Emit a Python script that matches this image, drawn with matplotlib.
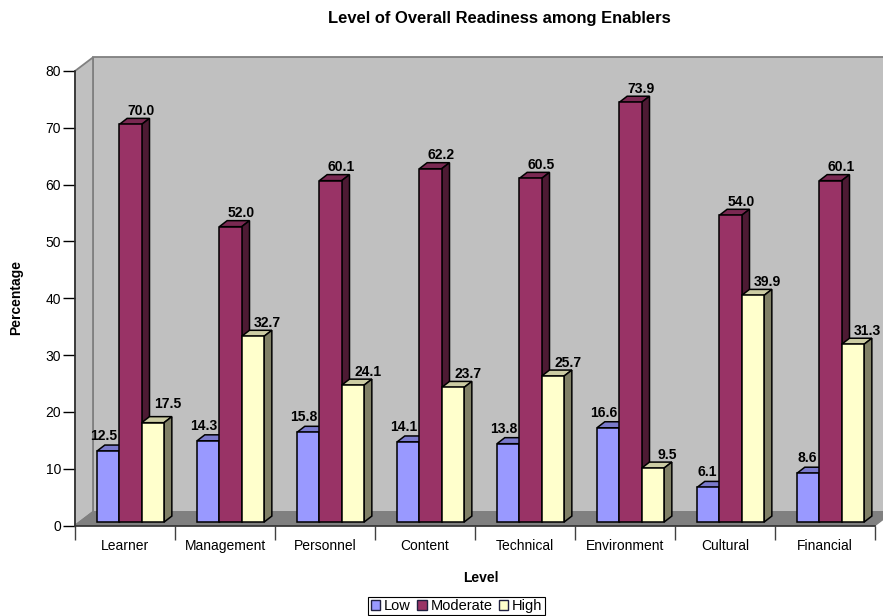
import matplotlib
matplotlib.use('Agg')
import matplotlib.pyplot as plt
from matplotlib.patches import Polygon, Patch

plt.rcParams['font.family'] = ['Liberation Sans', 'DejaVu Sans']

TITLE = 'Level of Overall Readiness among Enablers'
categories = ['Learner', 'Management', 'Personnel', 'Content',
              'Technical', 'Environment', 'Cultural', 'Financial']
low = [12.5, 14.3, 15.8, 14.1, 13.8, 16.6, 6.1, 8.6]
moderate = [70.0, 52.0, 60.1, 62.2, 60.5, 73.9, 54.0, 60.1]
high = [17.5, 32.7, 24.1, 23.7, 25.7, 9.5, 39.9, 31.3]

# name, values, front, top, side
series = [
    ('Low', low, '#9999FF', '#7A7ACC', '#4D4D80'),
    ('Moderate', moderate, '#993366', '#7A2952', '#4D1A33'),
    ('High', high, '#FFFFCC', '#CCCCA3', '#808066'),
]

W, H = 883, 616
LEFT, RIGHT, TOP, BOTTOM = 75, 875, 71, 525.5

# everything in data units: x = categories, y = percent
WALL_DX, WALL_DY = 0.18, 2.4
BAR_DX, BAR_DY = 0.078, 1.06
BAR_W = 0.2235
BAR_START = 0.22
BAR_BASE = 0.6


def depth_faces(ax, x0, x1, y0, y1, dx, dy, top_c, side_c, z):
    top = [(x0, y1), (x1, y1), (x1 + dx, y1 + dy), (x0 + dx, y1 + dy)]
    side = [(x1, y0), (x1 + dx, y0 + dy), (x1 + dx, y1 + dy), (x1, y1)]
    ax.add_patch(Polygon(top, fc=top_c, ec='black', lw=1.1, zorder=z, clip_on=False))
    ax.add_patch(Polygon(side, fc=side_c, ec='black', lw=1.1, zorder=z, clip_on=False))


fig = plt.figure(figsize=(W / 100, H / 100), dpi=100)
ax = fig.add_axes([LEFT / W, 1 - BOTTOM / H, (RIGHT - LEFT) / W, (BOTTOM - TOP) / H])
ax.set_xlim(0, len(categories))
ax.set_ylim(0, 80)
ax.patch.set_visible(False)

n = len(categories)
wall = [(WALL_DX, WALL_DY), (n + WALL_DX, WALL_DY), (n + WALL_DX, 80 + WALL_DY), (WALL_DX, 80 + WALL_DY)]
side_wall = [(0, 0), (WALL_DX, WALL_DY), (WALL_DX, 80 + WALL_DY), (0, 80)]
floor = [(0, 0), (n, 0), (n + WALL_DX, WALL_DY), (WALL_DX, WALL_DY)]
ax.add_patch(Polygon(wall, fc='#C0C0C0', ec='#808080', lw=1.3, zorder=1, clip_on=False))
ax.add_patch(Polygon(side_wall, fc='#C0C0C0', ec='#808080', lw=1.3, zorder=1, clip_on=False))
ax.add_patch(Polygon(floor, fc='#808080', ec='#808080', lw=1, zorder=1, clip_on=False))

# label placement per series: ha, x offset, y gap above the bar top
label_style = [('right', 0.20, 0.35), ('center', 0.22, 0.05), ('center', 0.26, 0.05)]
label_nudge = {(0, 2): 0.9}

for i in range(n):
    z = 3
    for j, (name, vals, front, top_c, side_c) in enumerate(series):
        x0 = i + BAR_START + j * BAR_W
        v = vals[i]
        y1 = BAR_BASE + v
        depth_faces(ax, x0, x0 + BAR_W, BAR_BASE, y1, BAR_DX, BAR_DY, top_c, side_c, z)
        ax.bar(x0, v, BAR_W, bottom=BAR_BASE, align='edge', color=front, edgecolor='black',
               linewidth=1.1, zorder=z + 1, clip_on=False)
        ha, off, gap = label_style[j]
        ax.text(x0 + off, y1 + BAR_DY + gap + label_nudge.get((i, j), 0),
                f'{v:.1f}', ha=ha, va='bottom', fontsize=10, fontweight='bold', zorder=20,
                clip_on=False)
        z += 2

ax.set_xticks(range(n + 1))
ax.set_xticklabels([])
ax.set_xticks([i + 0.5 for i in range(n)], minor=True)
ax.set_xticklabels(categories, minor=True, fontsize=10)
ax.tick_params(axis='x', which='major', length=10, width=1, color='#404040')
ax.tick_params(axis='x', which='minor', length=0, pad=10)
ax.set_yticks(range(0, 81, 10))
ax.tick_params(axis='y', length=9, width=1, labelsize=10, pad=1)
for s in ('top', 'right'):
    ax.spines[s].set_visible(False)
for s in ('left', 'bottom'):
    ax.spines[s].set_linewidth(1.2)
    ax.spines[s].set_color('#303030')
    ax.spines[s].set_zorder(2)

fig.text(499 / W, 1 - 19 / H, TITLE, ha='center', va='center', fontsize=11.9, fontweight='bold')
fig.text(16 / W, 1 - 297 / H, 'Percentage', rotation=90, ha='center', va='center', fontsize=10, fontweight='bold')
fig.text(481 / W, 1 - 578 / H, 'Level', ha='center', va='center', fontsize=10, fontweight='bold')

handles = [Patch(fc=s[2], ec='#202040', lw=1, label=s[0]) for s in series]
leg = fig.legend(handles=handles, loc='center', bbox_to_anchor=(456.5 / W, 1 - 606 / H), ncol=3,
                 fontsize=10.5, frameon=True, fancybox=False, edgecolor='black', framealpha=1,
                 handlelength=0.65, handleheight=0.65, handletextpad=0.25, columnspacing=0.45,
                 borderpad=0.15, borderaxespad=0)
leg.get_frame().set_linewidth(0.8)

fig.savefig('out.png', dpi=100)
